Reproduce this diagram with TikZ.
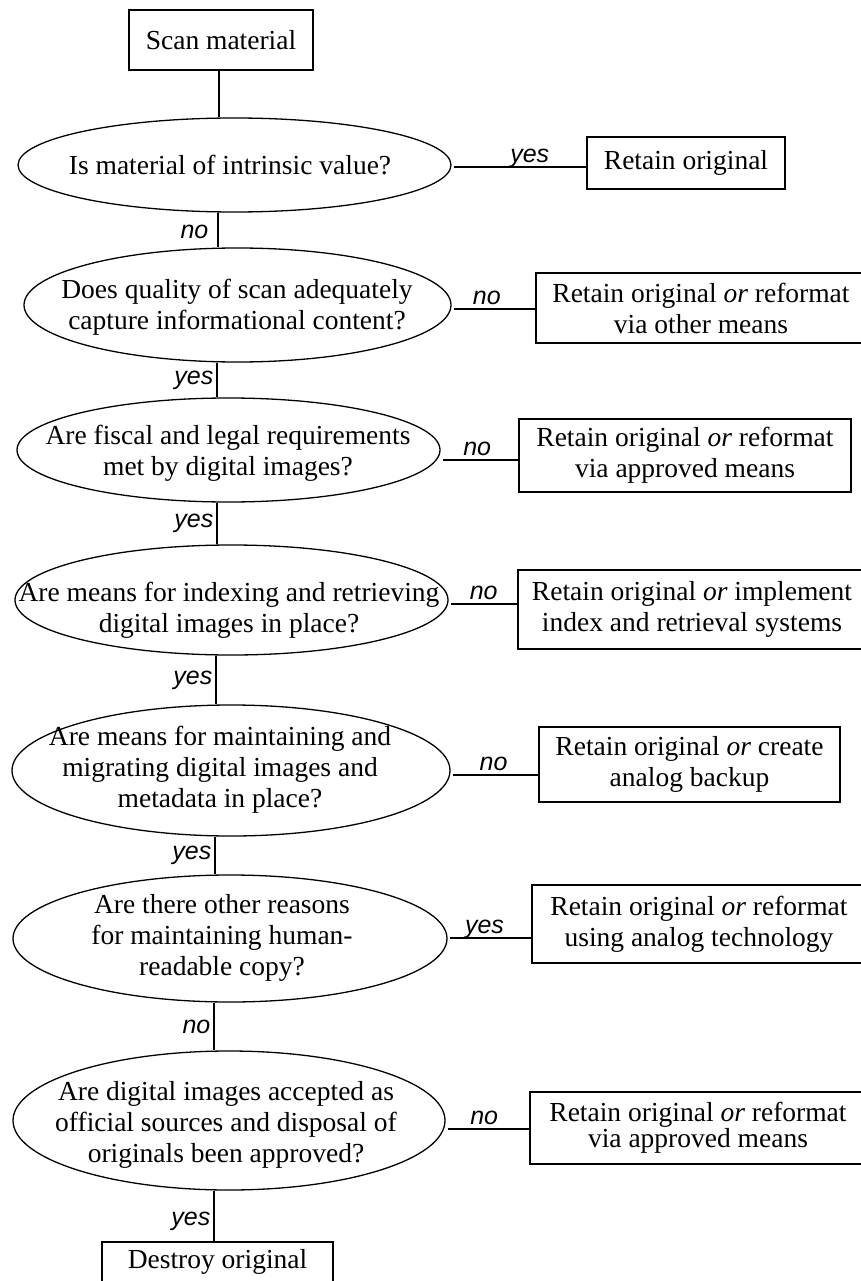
\documentclass[tikz,border=0pt]{standalone}
\usepackage{fontspec}
\setmainfont{Liberation Serif}
\newfontfamily\yesnofont{Liberation Sans}
\usetikzlibrary{shapes.geometric}

\begin{document}
\begin{tikzpicture}[x=1pt,y=-1pt,
  every node/.style={font=\fontsize{27.5}{31}\selectfont},
  question/.style={draw, ellipse, line width=1.3pt, inner sep=0pt},
  qtext/.style={align=center, inner sep=0pt},
  outcome/.style={draw, rectangle, line width=1.3pt, inner sep=0pt, align=center},
  flow/.style={line width=1.3pt},
  answer/.style={font=\yesnofont\itshape\fontsize{25}{28}\selectfont, inner sep=0pt},
  sideanswer/.style={answer, anchor=base, yshift=4.5pt},
  downanswer/.style={answer, anchor=east, xshift=-3pt}
]
\path[use as bounding box, fill=white] (0,0) rectangle (860,1281);

% start and end boxes
\node[outcome, minimum width=184, minimum height=60] (scan) at (221,40) {Scan material};
\node[outcome, minimum width=231, minimum height=40] (destroy) at (217.5,1262) {Destroy original};

% decision ellipses and their questions
\node[question, minimum width=433, minimum height=94]  (q1) at (234.5,165) {};
\node[qtext] (q1t) at (230,165) {Is material of intrinsic value?};
\node[question, minimum width=427, minimum height=114] (q2) at (237.5,305) {};
\node[qtext] (q2t) at (237,307) {Does quality of scan adequately\\capture informational content?};
\node[question, minimum width=423, minimum height=104] (q3) at (228.5,450) {};
\node[qtext] (q3t) at (228,453) {Are fiscal and legal requirements\\met by digital images?};
\node[question, minimum width=433, minimum height=110] (q4) at (231.5,600) {};
\node[qtext] (q4t) at (229,610) {Are means for indexing and retrieving\\digital images in place?};
\node[question, minimum width=438, minimum height=131] (q5) at (231,770.5) {};
\node[qtext] (q5t) at (220,770) {Are means for maintaining and\\migrating digital images and\\metadata in place?};
\node[question, minimum width=434, minimum height=127] (q6) at (230,938.5) {};
\node[qtext] (q6t) at (222,938) {Are there other reasons\\for maintaining human-\\readable copy?};
\node[question, minimum width=432, minimum height=139] (q7) at (229,1120.5) {};
\node[qtext] (q7t) at (226,1125) {Are digital images accepted as\\official sources and disposal of\\originals been approved?};

% outcome boxes on the right
\node[outcome, minimum width=198, minimum height=52] (b1) at (686,163) {Retain original};
\node[outcome, minimum width=330, minimum height=70] (b2) at (701,308) {Retain original \textit{or} reformat\\via other means};
\node[outcome, minimum width=332, minimum height=73] (b3) at (685,455.5) {Retain original \textit{or} reformat\\via approved means};
\node[outcome, minimum width=348, minimum height=79] (b4) at (692,609.5) {Retain original \textit{or} implement\\index and retrieval systems};
\node[outcome, minimum width=301, minimum height=75] (b5) at (689.5,764.5) {Retain original \textit{or} create\\analog backup};
\node[outcome, minimum width=334, minimum height=78] (b6) at (699,924) {Retain original \textit{or} reformat\\using analog technology};
\node[outcome, minimum width=336, minimum height=72] (b7) at (698,1128) {Retain original \textit{or} reformat\\[-5pt]via approved means};

% x positions of the vertical links
\coordinate (v0) at (219,0);
\coordinate (v1) at (218,0);
\coordinate (v2) at (217,0);
\coordinate (v3) at (217,0);
\coordinate (v4) at (216,0);
\coordinate (v5) at (215,0);
\coordinate (v6) at (214,0);
\coordinate (v7) at (214,0);

% y positions of the horizontal links
\coordinate (h1) at (0,167);
\coordinate (h2) at (0,309);
\coordinate (h3) at (0,460);
\coordinate (h4) at (0,604);
\coordinate (h5) at (0,775);
\coordinate (h6) at (0,938);
\coordinate (h7) at (0,1129);

% main column
\draw[flow] (scan.south -| v0) -- (q1.north -| v0);
\draw[flow] (q1.south -| v1) -- node[downanswer, pos=0.55, xshift=-6pt] {no} (q2.north -| v1);
\draw[flow] (q2.south -| v2) -- node[downanswer, pos=0.5] {yes} (q3.north -| v2);
\draw[flow] (q3.south -| v3) -- node[downanswer, pos=0.5] {yes} (q4.north -| v3);
\draw[flow] (q4.south -| v4) -- node[downanswer, pos=0.5] {yes} (q5.north -| v4);
\draw[flow] (q5.south -| v5) -- node[downanswer, pos=0.5] {yes} (q6.north -| v5);
\draw[flow] (q6.south -| v6) -- node[downanswer, pos=0.5] {no} (q7.north -| v6);
\draw[flow] (q7.south -| v7) -- node[downanswer, pos=0.6] {yes} (destroy.north -| v7);

% side branches
\draw[flow, shorten <=2pt] (q1.east |- h1) -- node[sideanswer, pos=0.58] {yes} (b1.west |- h1);
\draw[flow, shorten <=2pt] (q2.east |- h2) -- node[sideanswer, pos=0.42] {no} (b2.west |- h2);
\draw[flow, shorten <=2pt] (q3.east |- h3) -- node[sideanswer, pos=0.47] {no} (b3.west |- h3);
\draw[flow, shorten <=2pt] (q4.east |- h4) -- node[sideanswer, pos=0.51] {no} (b4.west |- h4);
\draw[flow, shorten <=2pt] (q5.east |- h5) -- node[sideanswer, pos=0.49] {no} (b5.west |- h5);
\draw[flow, shorten <=2pt] (q6.east |- h6) -- node[sideanswer, pos=0.44] {yes} (b6.west |- h6);
\draw[flow, shorten <=2pt] (q7.east |- h7) -- node[sideanswer, pos=0.46] {no} (b7.west |- h7);
\end{tikzpicture}
\end{document}
